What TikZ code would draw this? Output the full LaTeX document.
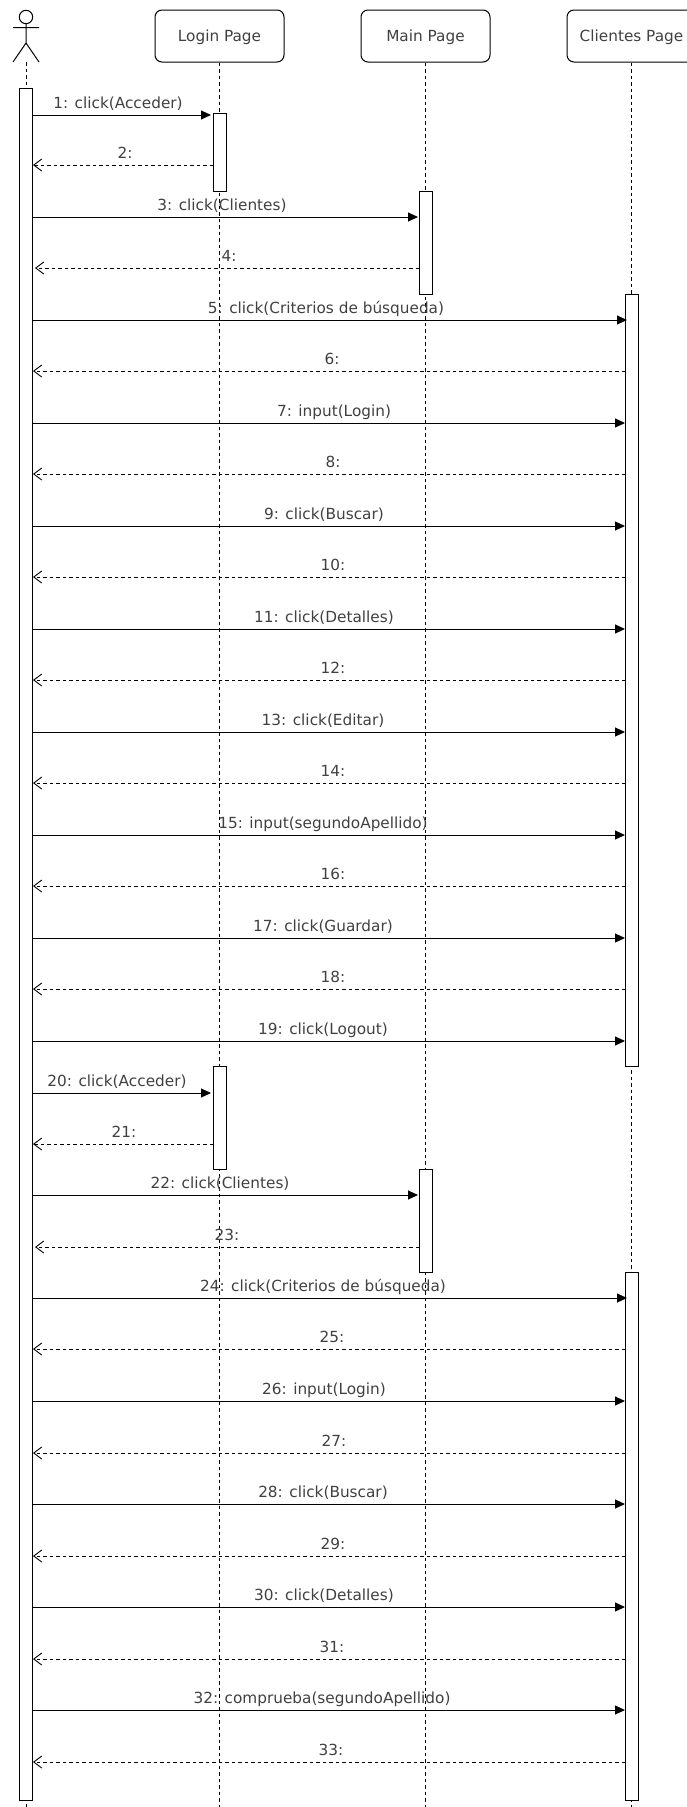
\documentclass[tikz,border=0pt]{standalone}
\usepackage{fontspec}
\setmainfont{DejaVu Sans}
\usetikzlibrary{arrows.meta}
\definecolor{labelgray}{HTML}{404040}

\tikzset{
  page/.style={draw, rounded corners=7, minimum width=129, minimum height=52, inner sep=0, text height=14, text depth=2.6, line width=1pt, text=labelgray, font=\fontsize{15.3}{18}\selectfont},
  activation/.style={draw, fill=white, minimum width=13, inner sep=0, line width=1pt},
  lifeline/.style={dash pattern=on 3.5pt off 3pt, line width=0.9pt},
  msglabel/.style={anchor=base, inner sep=0, text=labelgray, font=\fontsize{15.3}{18}\selectfont},
  call/.style={line width=1pt, -{Triangle[length=10,width=9]}},
  answer/.style={line width=0.9pt, dash pattern=on 3.5pt off 3pt, -{Straight Barb[length=8,width=12,line width=0.9pt]}},
}

\begin{document}
\begin{tikzpicture}[x=1pt,y=-1pt]
  \useasboundingbox (0,0) rectangle (687,1807);
  \clip (0,0) rectangle (687,1807);

  % pages
  \node [page] (login) at (219.5,36) {Login Page};
  \node [page] (main) at (425.5,36) {Main Page};
  \node [page] (clientes) at (631.5,36) {Clientes Page};

  % actor
  \draw [line width=1pt] (26,17) circle (6.7);
  \coordinate (neck) at (26,23.7);
  \coordinate (hip) at (26,43);
  \draw [line width=1pt] (neck) -- (hip) -- (13,62) (hip) -- (39,62) (13,27.5) -- (39,27.5);
  \coordinate (foot) at (26,62);

  \coordinate (actorend) at (26,1807);
  \coordinate (loginend) at (219.5,1807);
  \coordinate (mainend) at (425.5,1807);
  \coordinate (clientesend) at (631.5,1807);
  \draw [lifeline] (foot) -- (actorend);
  \draw [lifeline] (login) -- (loginend);
  \draw [lifeline] (main) -- (mainend);
  \draw [lifeline] (clientes) -- (clientesend);

  % activations
  \foreach \name/\x/\top/\bot in {actor/26/88/1800, login1/219.5/113/191, main1/425.5/191/294,
      clientes1/631.5/294/1066, login2/219.5/1066/1169, main2/425.5/1169/1272, clientes2/631.5/1272/1800}
    \node [activation, minimum height={(\bot-\top)*1pt}] (\name) at (\x,{(\top+\bot)/2}) {};

  % calls
  \foreach \n/\y/\lx/\tox/\txt in {1/115/118/211/click(Acceder), 3/217/222/418/click(Clientes),
      5/320/326/627/click(Criterios de búsqueda), 7/423/334/625/input(Login), 9/526/324/625/click(Buscar),
      11/629/324/625/click(Detalles), 13/732/323/625/click(Editar), 15/835/323/625/input(segundoApellido),
      17/938/323/625/click(Guardar), 19/1041/323/625/click(Logout), 20/1093/117/211/click(Acceder),
      22/1195/220/418/click(Clientes), 24/1298/323/627/click(Criterios de búsqueda), 26/1401/324/625/input(Login),
      28/1504/323/625/click(Buscar), 30/1607/324/625/click(Detalles), 32/1710/322/625/comprueba(segundoApellido)} {
    \coordinate (from\n) at (32,\y);
    \coordinate (to\n) at (\tox,\y);
    \draw [call] (from\n) -- (to\n);
    \node [msglabel] (label\n) at (\lx,\y-7) {\n: \txt};
  }

  % answers
  \foreach \n/\y/\lx/\fromx/\tox in {2/165/125/213/33, 4/268/229/419/35, 6/371/332/625/33, 8/474/333/625/33,
      10/577/333/625/33, 12/680/333/625/33, 14/783/333/625/33, 16/886/333/625/33, 18/989/333/625/33,
      21/1144/124/213/33, 23/1247/227/419/35, 25/1349/332/625/33, 27/1453/334/625/33, 29/1556/333/625/33,
      31/1659/332/625/33, 33/1762/331/625/33} {
    \coordinate (from\n) at (\fromx,\y);
    \coordinate (to\n) at (\tox,\y);
    \draw [answer] (from\n) -- (to\n);
    \node [msglabel] (label\n) at (\lx,\y-7) {\n:};
  }
\end{tikzpicture}
\end{document}
